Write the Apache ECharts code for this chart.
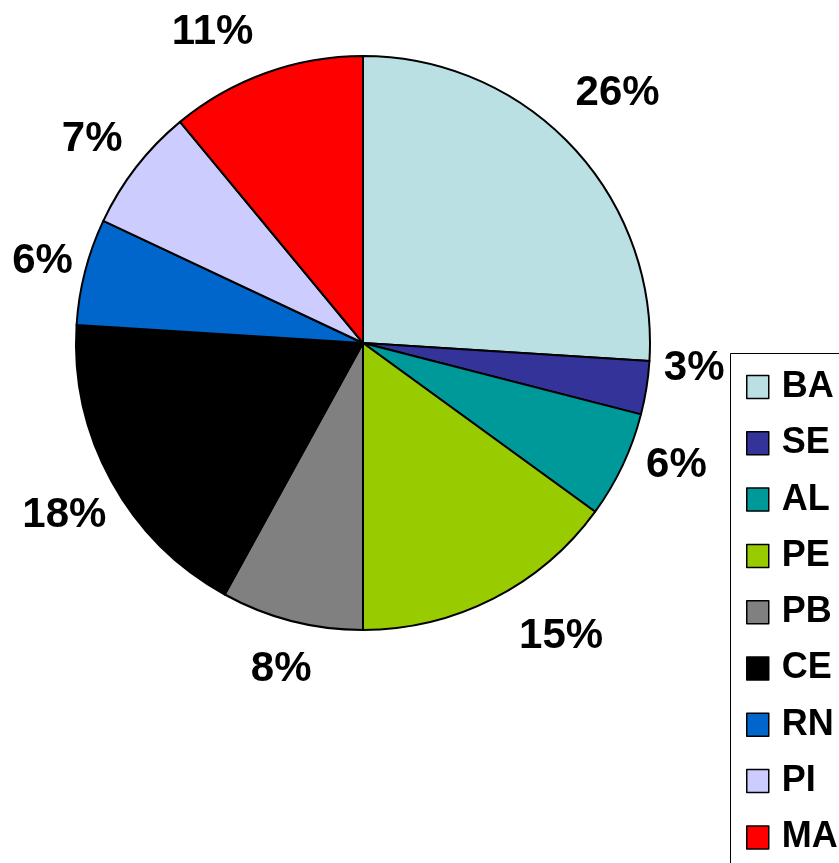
<!DOCTYPE html>
<html>
<head>
<meta charset="utf-8">
<script src="https://cdn.jsdelivr.net/npm/echarts@6/dist/echarts.min.js"></script>
<style>
  html, body { margin: 0; padding: 0; background: #ffffff; }
  #chart { width: 839px; height: 863px; }
</style>
</head>
<body>
<div id="chart"></div>
<script>
// Share of each region (percent), clockwise from 12 o'clock
const categories = ['BA', 'SE', 'AL', 'PE', 'PB', 'CE', 'RN', 'PI', 'MA'];
const shares = [26, 3, 6, 15, 8, 18, 6, 7, 11];
const sliceColors = ['#BBE0E3', '#333399', '#009999', '#99CC00', '#808080',
                     '#000000', '#0066CC', '#CCCCFF', '#FF0000'];

// Pie geometry (pixels)
const CX = 363, CY = 343, R = 287;
const LABEL_GAP = 20;
// hand-tuned nudges [dx, dy] for the percentage labels
const labelNudge = [[1, -11], [-4, -28], [5, -23], [44, -9], [0, 8],
                    [9, 3], [9, 3], [-2, 5], [-37, 5]];
const FONT = '"Liberation Sans", Arial, Helvetica, sans-serif';

const total = shares.reduce((a, b) => a + b, 0);
// mid-angle of each slice in degrees, clockwise from the top
const midAngles = [];
let acc = 0;
shares.forEach(v => {
  midAngles.push((acc + v / 2) / total * 360);
  acc += v;
});

const chart = echarts.init(document.getElementById('chart'), null, { renderer: 'canvas' });

chart.setOption({
  animation: false,
  backgroundColor: '#ffffff',
  graphic: [{
    // legend frame, running off the right and bottom edges
    type: 'rect',
    z: 0,
    shape: { x: 730.5, y: 353.5, width: 200, height: 600 },
    style: { fill: '#ffffff', stroke: '#000000', lineWidth: 1 }
  }],
  legend: {
    orient: 'vertical',
    left: 730,
    top: 353,
    padding: [16, 0, 0, 16],
    itemWidth: 22,
    itemHeight: 23,
    itemGap: 20.3,
    icon: 'rect',
    itemStyle: { borderColor: '#000000', borderWidth: 1.5 },
    textStyle: {
      fontFamily: FONT,
      fontSize: 36,
      fontWeight: 'bold',
      color: '#000000',
      lineHeight: 36,
      padding: [0, 0, 0, 8]
    },
    data: categories
  },
  series: [{
    type: 'pie',
    center: [CX, CY],
    radius: R,
    startAngle: 90,
    clockwise: true,
    avoidLabelOverlap: false,
    itemStyle: { borderColor: '#000000', borderWidth: 2 },
    emphasis: { disabled: true },
    label: {
      show: true,
      position: 'outside',
      formatter: p => Math.round(p.value) + '%',
      fontFamily: FONT,
      fontSize: 42,
      fontWeight: 'bold',
      color: '#000000'
    },
    labelLine: { show: false },
    labelLayout: function (params) {
      const i = params.dataIndex;
      const a = midAngles[i] * Math.PI / 180;
      const s = Math.sin(a), c = Math.cos(a);
      const hw = params.labelRect.width / 2;
      const hh = 15;
      const d = R + LABEL_GAP + hw * Math.abs(s) + hh * Math.abs(c);
      return {
        x: CX + d * s + labelNudge[i][0],
        y: CY - d * c + labelNudge[i][1],
        align: 'center',
        verticalAlign: 'middle'
      };
    },
    data: categories.map((name, i) => ({
      name: name,
      value: shares[i],
      itemStyle: { color: sliceColors[i] }
    }))
  }]
});
</script>
</body>
</html>
